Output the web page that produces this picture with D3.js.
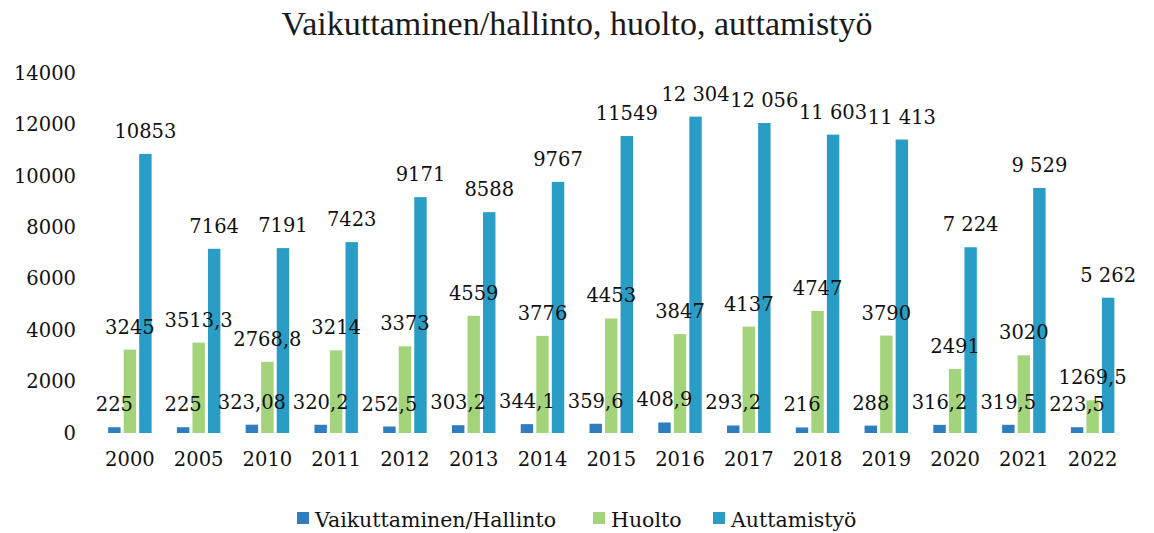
<!DOCTYPE html>
<html>
<head>
<meta charset="utf-8">
<script src="https://cdn.jsdelivr.net/npm/d3@7"></script>
<style>
  html, body { margin: 0; padding: 0; background: #ffffff; }
  svg { display: block; }
</style>
</head>
<body>
<svg id="chart" width="1154" height="533"></svg>
<script>
// ---- data ----
const years = ["2000","2005","2010","2011","2012","2013","2014","2015","2016","2017","2018","2019","2020","2021","2022"];
const seriesNames = ["Vaikuttaminen/Hallinto", "Huolto", "Auttamistyö"];
const vaikuttaminen = [225, 225, 323.08, 320.2, 252.5, 303.2, 344.1, 359.6, 408.9, 293.2, 216, 288, 316.2, 319.5, 223.5];
const huolto = [3245, 3513.3, 2768.8, 3214, 3373, 4559, 3776, 4453, 3847, 4137, 4747, 3790, 2491, 3020, 1269.5];
const auttamistyo = [10853, 7164, 7191, 7423, 9171, 8588, 9767, 11549, 12304, 12056, 11603, 11413, 7224, 9529, 5262];
const vaikuttaminenLabels = ["225","225","323,08","320,2","252,5","303,2","344,1","359,6","408,9","293,2","216","288","316,2","319,5","223,5"];
const huoltoLabels = ["3245","3513,3","2768,8","3214","3373","4559","3776","4453","3847","4137","4747","3790","2491","3020","1269,5"];
const auttamistyoLabels = ["10853","7164","7191","7423","9171","8588","9767","11549","12 304","12 056","11 603","11 413","7 224","9 529","5 262"];
const yTicks = [0, 2000, 4000, 6000, 8000, 10000, 12000, 14000];
const title = "Vaikuttaminen/hallinto, huolto, auttamistyö";

// ---- layout ----
const colors = ["#2f7dbd", "#a3d47c", "#2a9dc6"];
const numFont = "'DejaVu Serif', serif";
const svg = d3.select("#chart");

const x = d3.scaleBand().domain(years).range([95.5, 1127]).padding(0);
const xSub = d3.scaleBand().domain(seriesNames).range([-21.75, 21.75]).paddingInner(0.2);
const y = d3.scaleLinear().domain([0, 14000]).range([433, 73]);

const series = [
  { name: seriesNames[0], values: vaikuttaminen, labels: vaikuttaminenLabels, color: colors[0] },
  { name: seriesNames[1], values: huolto, labels: huoltoLabels, color: colors[1] },
  { name: seriesNames[2], values: auttamistyo, labels: auttamistyoLabels, color: colors[2] }
];

// title
svg.append("text")
  .attr("x", 577).attr("y", 35)
  .attr("text-anchor", "middle")
  .style("font-family", "'Liberation Serif', serif")
  .style("font-size", "34px")
  .style("fill", "#1a1a1a")
  .text(title);

// y axis (labels only)
const yAxis = d3.axisLeft(y).tickValues(yTicks).tickSize(0).tickPadding(0).tickFormat(d3.format("d"));
const yg = svg.append("g").attr("transform", "translate(76,0)").call(yAxis);
yg.select(".domain").remove();
yg.selectAll("text")
  .style("font-family", numFont).style("font-size", "19.5px").style("fill", "#111");

// x axis (labels only)
const xAxis = d3.axisBottom(x).tickSize(0).tickPadding(0);
const xg = svg.append("g").attr("transform", "translate(0,452)").call(xAxis);
xg.select(".domain").remove();
xg.selectAll("text")
  .style("font-family", numFont).style("font-size", "19.5px").style("fill", "#111");

// bars (all first), then labels on top
const barLayer = svg.append("g");
const labelLayer = svg.append("g");
series.forEach(s => {
  const rows = years.map((yr, i) => ({ yr, v: s.values[i], l: s.labels[i] }));
  barLayer.append("g").selectAll("rect")
    .data(rows)
    .join("rect")
    .attr("x", d => x(d.yr) + x.bandwidth() / 2 + xSub(s.name))
    .attr("width", xSub.bandwidth())
    .attr("y", d => y(d.v))
    .attr("height", d => y(0) - y(d.v))
    .attr("fill", s.color);
  labelLayer.append("g").selectAll("text")
    .data(rows)
    .join("text")
    .attr("x", d => x(d.yr) + x.bandwidth() / 2 + xSub(s.name) + xSub.bandwidth() / 2)
    .attr("y", d => y(d.v) - 16)
    .attr("text-anchor", "middle")
    .style("font-family", numFont).style("font-size", "19.5px").style("fill", "#111")
    .text(d => d.l);
});

// legend
const legendX = [297, 593, 713];
const legend = svg.append("g");
series.forEach((s, i) => {
  legend.append("rect")
    .attr("x", legendX[i]).attr("y", 512).attr("width", 12).attr("height", 12)
    .attr("fill", s.color);
  legend.append("text")
    .attr("x", legendX[i] + 18).attr("y", 527)
    .style("font-family", numFont).style("font-size", "20.5px").style("fill", "#111")
    .text(s.name);
});
</script>
</body>
</html>
